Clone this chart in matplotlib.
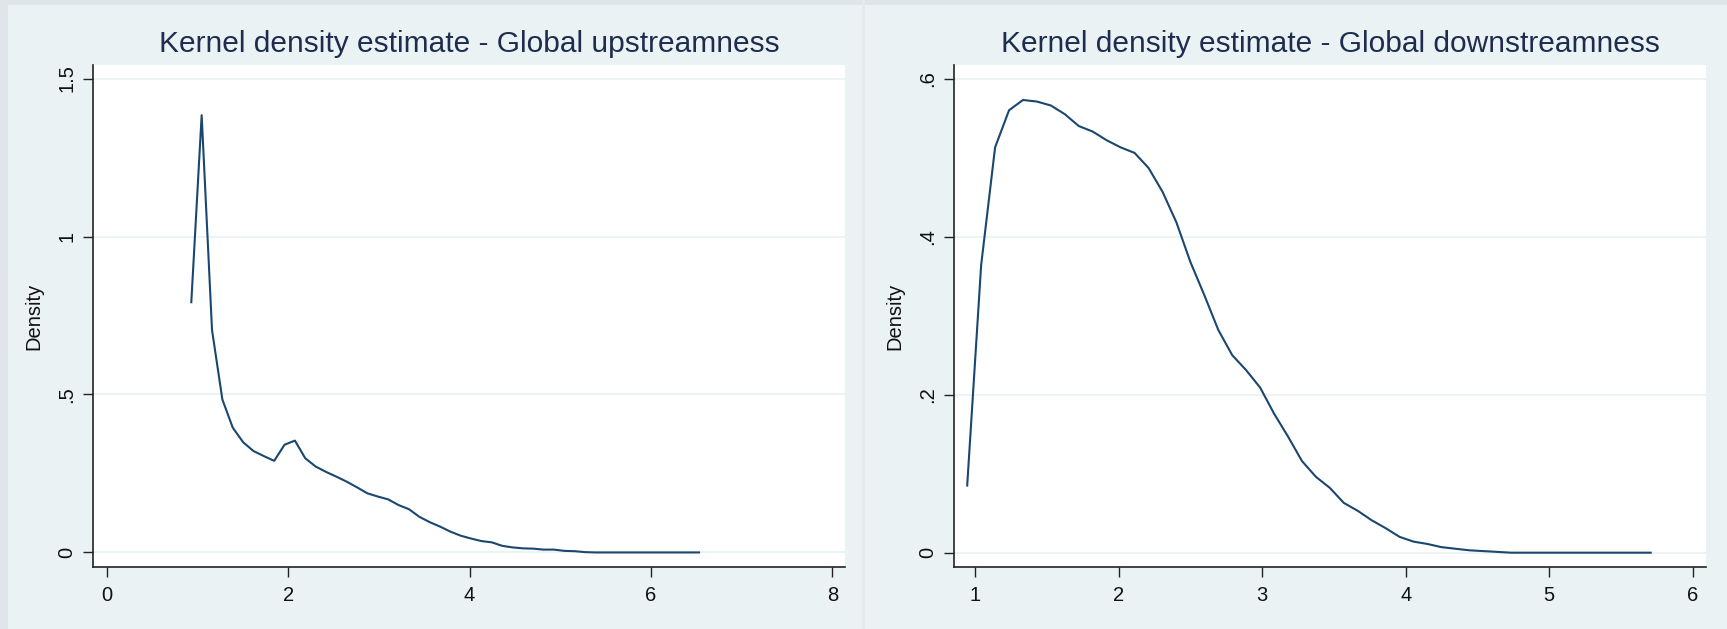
import numpy as np
import matplotlib
matplotlib.use('Agg')
import matplotlib.pyplot as plt
from matplotlib.ticker import FixedLocator
from matplotlib.patches import Rectangle

# Kernel density estimates (50 evaluation points each)
UP_X_START, UP_X_END = 0.931, 6.53
up_density = [
    0.792, 1.384, 0.704, 0.484, 0.395, 0.349, 0.321, 0.305, 0.290, 0.341,
    0.354, 0.298, 0.272, 0.255, 0.240, 0.224, 0.206, 0.187, 0.177, 0.168,
    0.150, 0.137, 0.113, 0.096, 0.082, 0.066, 0.053, 0.044, 0.036, 0.032,
    0.021, 0.016, 0.013, 0.012, 0.009, 0.009, 0.005, 0.004, 0.001, 0.0,
    0.0, 0.0, 0.0, 0.0, 0.0, 0.0, 0.0, 0.0, 0.0, 0.0,
]

DOWN_X_START, DOWN_X_END = 0.944, 5.707
down_density = [
    0.085, 0.364, 0.513, 0.560, 0.573, 0.571, 0.566, 0.555, 0.540, 0.533,
    0.522, 0.513, 0.506, 0.487, 0.457, 0.418, 0.368, 0.326, 0.282, 0.250,
    0.231, 0.209, 0.176, 0.147, 0.116, 0.096, 0.082, 0.063, 0.053, 0.041,
    0.031, 0.020, 0.014, 0.011, 0.007, 0.005, 0.003, 0.002, 0.001, 0.0,
    0.0, 0.0, 0.0, 0.0, 0.0, 0.0, 0.0, 0.0, 0.0, 0.0,
]

up_titles = 'Kernel density estimate - Global upstreamness'
down_titles = 'Kernel density estimate - Global downstreamness'
up_xticks = [0, 2, 4, 6, 8]
up_yticks = [0, 0.5, 1, 1.5]
up_ylabels = ['0', '.5', '1', '1.5']
down_xticks = [1, 2, 3, 4, 5, 6]
down_yticks = [0, 0.2, 0.4, 0.6]
down_ylabels = ['0', '.2', '.4', '.6']

# Stata s2color look
BG = '#eaf2f3'
EDGE = '#dfe5e9'
LINE = '#1a476f'
TITLE_COLOR = '#1e2d4f'

plt.rcParams['font.family'] = ['Liberation Sans', 'DejaVu Sans']


def style_axes(ax, xticks, yticks, ylabels, xlim, ylim, title):
    ax.set_facecolor('white')
    ax.set_xlim(*xlim)
    ax.set_ylim(*ylim)
    ax.xaxis.set_major_locator(FixedLocator(xticks))
    ax.set_xticklabels([str(t) for t in xticks])
    ax.yaxis.set_major_locator(FixedLocator(yticks))
    ax.set_yticklabels(ylabels, rotation=90, va='center')
    ax.grid(axis='y', color=BG, linewidth=1.3)
    ax.set_axisbelow(True)
    for side in ['top', 'right']:
        ax.spines[side].set_visible(False)
    for side in ['left', 'bottom']:
        ax.spines[side].set_color('#222222')
        ax.spines[side].set_linewidth(1.2)
    ax.tick_params(axis='both', direction='out', length=7, width=1.0,
                   color='#222222', labelsize=14.5, labelcolor='#111111')
    ax.tick_params(axis='x', pad=7)
    ax.tick_params(axis='y', pad=5)
    ax.set_ylabel('Density', fontsize=14.5, color='#111111', labelpad=10)
    ax.set_title(title, fontsize=21.5, color=TITLE_COLOR, pad=9)


fig = plt.figure(figsize=(17.27, 6.29), dpi=100, facecolor=BG)

# screenshot frame: darker strip along the top and left edge, faint divider
W, H = 1727, 629
fig.patches.append(Rectangle((0, 1 - 5 / H), 1, 5 / H, transform=fig.transFigure,
                             facecolor=EDGE, edgecolor='none'))
fig.patches.append(Rectangle((0, 0), 8 / W, 1, transform=fig.transFigure,
                             facecolor=EDGE, edgecolor='none'))
fig.patches.append(Rectangle((862 / W, 0), 3 / W, 1, transform=fig.transFigure,
                             facecolor='#e4eaed', edgecolor='none'))

ax1 = fig.add_axes([0.05385, 0.0986, 0.4354, 0.7981])
up_x = np.linspace(UP_X_START, UP_X_END, len(up_density))
ax1.plot(up_x, up_density, color=LINE, linewidth=1.5)
style_axes(ax1, up_xticks, up_yticks, up_ylabels,
           (-0.153, 8.139), (-0.046, 1.543), up_titles)

ax2 = fig.add_axes([0.5524, 0.0986, 0.4354, 0.7981])
down_x = np.linspace(DOWN_X_START, DOWN_X_END, len(down_density))
ax2.plot(down_x, down_density, color=LINE, linewidth=1.5)
style_axes(ax2, down_xticks, down_yticks, down_ylabels,
           (0.852, 6.092), (-0.0181, 0.6173), down_titles)

fig.savefig('out.png', dpi=100, facecolor=BG)
